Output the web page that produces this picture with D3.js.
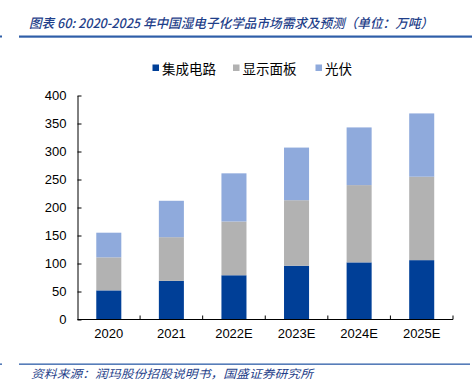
<!DOCTYPE html>
<html><head><meta charset="utf-8">
<script src="https://cdn.jsdelivr.net/npm/d3@7"></script>
<style>body{margin:0;background:#fff}svg{display:block}</style>
</head><body>
<script>
const categories = ["2020","2021","2022E","2023E","2024E","2025E"];
const seriesNames = ["集成电路","显示面板","光伏"];
const icValues = [52, 69, 79, 96, 102, 106];
const displayValues = [59, 78, 96, 117, 138, 149];
const pvValues = [44, 65, 86, 94, 103, 113];
const yTicks = [0,50,100,150,200,250,300,350,400];
const colors = ["#003f97","#b2b2b2","#8faadc"];
const titleText = "图表 60:  2020-2025 年中国湿电子化学品市场需求及预测（单位：万吨）";
const sourceText = "资料来源：润玛股份招股说明书，国盛证券研究所";

const W = 472, H = 381;
const svg = d3.select("body").append("svg").attr("width", W).attr("height", H);

// title
svg.append("text").attr("x", 29).attr("y", 28)
  .attr("font-family", "'Noto Sans CJK SC', sans-serif").attr("font-style","italic")
  .attr("font-size", 13).attr("font-weight", "500").attr("fill", "#1f3f8a")
  .attr("textLength", 404).attr("lengthAdjust","spacingAndGlyphs")
  .text(titleText);
svg.append("rect").attr("x", 19).attr("y", 35.5).attr("width", 453).attr("height", 2.2).attr("fill", "#2f5ea8");
svg.append("rect").attr("x", 0).attr("y", 35.5).attr("width", 2).attr("height", 2).attr("fill", "#2f5ea8");

// bottom line and source
svg.append("rect").attr("x", 19).attr("y", 363.5).attr("width", 451).attr("height", 1.3).attr("fill", "#2f5ea8");
svg.append("rect").attr("x", 0).attr("y", 363.5).attr("width", 2).attr("height", 1.3).attr("fill", "#2f5ea8");
svg.append("text").attr("x", 31).attr("y", 378)
  .attr("font-family", "'Noto Sans CJK SC', sans-serif").attr("font-style","italic")
  .attr("font-size", 11.5).attr("fill", "#1f3f8a")
  .attr("textLength", 282).attr("lengthAdjust","spacingAndGlyphs")
  .text(sourceText);

// scales
const x = d3.scaleBand().domain(categories).range([77.5, 453]).paddingInner(0.6).paddingOuter(0.3);
const y = d3.scaleLinear().domain([0, 400]).range([319.5, 95.5]);

const data = categories.map((c, i) => ({cat: c, "集成电路": icValues[i], "显示面板": displayValues[i], "光伏": pvValues[i]}));
const stack = d3.stack().keys(seriesNames)(data);

svg.append("g").selectAll("g").data(stack).join("g")
  .attr("fill", (d, i) => colors[i])
  .selectAll("rect").data(d => d).join("rect")
  .attr("x", d => x(d.data.cat))
  .attr("width", x.bandwidth())
  .attr("y", d => y(d[1]))
  .attr("height", d => y(d[0]) - y(d[1]));

// y axis
const yAxis = svg.append("g").attr("transform", "translate(77.5,0)")
  .call(d3.axisLeft(y).tickValues(yTicks).tickSizeInner(-4).tickSizeOuter(0).tickPadding(11));
yAxis.select(".domain").attr("stroke", "#000");
yAxis.selectAll("text").attr("font-family", "'Liberation Sans', Arial, sans-serif").attr("font-size", 13).attr("fill", "#000");

// x axis
const xAxis = svg.append("g").attr("transform", "translate(0,319.5)")
  .call(d3.axisBottom(x).tickSize(0).tickPadding(9));
xAxis.select(".domain").attr("stroke", "#000").attr("d", "M77.5,0H453");
xAxis.selectAll("text").attr("font-family", "'Liberation Sans', Arial, sans-serif").attr("font-size", 13).attr("fill", "#000");
// boundary ticks between categories
const bounds = d3.range(1, categories.length + 1).map(i => 77.5 + i * (453 - 77.5) / categories.length);
xAxis.selectAll(".btick").data(bounds).join("line").attr("class","btick")
  .attr("x1", d => d).attr("x2", d => d).attr("y1", 0).attr("y2", -4).attr("stroke", "#000");

// legend
const legendX = [152.5, 233, 315.5];
const lg = svg.append("g").selectAll("g").data(seriesNames).join("g")
  .attr("transform", (d, i) => `translate(${legendX[i]},0)`);
lg.append("rect").attr("x", 0).attr("y", 64.5).attr("width", 6.5).attr("height", 6.5).attr("fill", (d, i) => colors[i]);
lg.append("text").attr("x", 9.5).attr("y", 73.5)
  .attr("font-family", "'Noto Sans CJK SC', sans-serif").attr("font-size", 13.5).attr("fill", "#000")
  .text(d => d);
</script>
</body></html>
